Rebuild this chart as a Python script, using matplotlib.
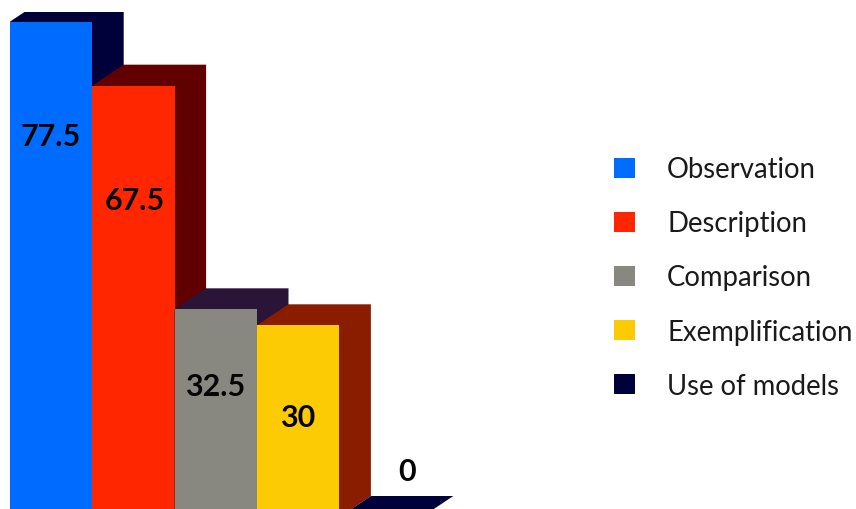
import matplotlib
matplotlib.use("Agg")
import matplotlib.pyplot as plt
from matplotlib.patches import Polygon, Patch
from matplotlib import font_manager as fm

categories = ["Observation", "Description", "Comparison", "Exemplification", "Use of models"]
values = [77.5, 67.5, 32.5, 30, 0]
value_labels = ["77.5", "67.5", "32.5", "30", "0"]
front_colors = ["#006cff", "#ff2600", "#888780", "#fdcb04", "#00003a"]
side_colors = ["#00003a", "#600000", "#2a1538", "#8a1c00", "#00003a"]

W, H = 856, 510
PX_PER_CAT, PX_PER_UNIT = 82.4, 6.39
LEFT_PX, TOP_PX, ZERO_PX, BOTTOM_PX = 9.8, 12.5, 518, 516
DEPTH_X, DEPTH_Y = 31.5 / PX_PER_CAT, 21 / PX_PER_UNIT
label_offsets = [(0, -114), (1, -114), (-1, -77), (-1, -92), (26, 46)]  # pixels from bar top

fig = plt.figure(figsize=(W / 100, H / 100), dpi=100, facecolor="white")
ax = fig.add_axes([LEFT_PX / W, (H - BOTTOM_PX) / H, (W - LEFT_PX) / W, (BOTTOM_PX - TOP_PX) / H])
ax.set_xlim(-0.5, -0.5 + (W - LEFT_PX) / PX_PER_CAT)
ax.set_ylim((ZERO_PX - BOTTOM_PX) / PX_PER_UNIT, (ZERO_PX - TOP_PX) / PX_PER_UNIT)
ax.axis("off")

for i, (v, fc, sc) in enumerate(zip(values, front_colors, side_colors)):
    x0, x1 = i - 0.5, i + 0.5
    ax.add_patch(Polygon([(x0, 0), (x0, v), (x0 + DEPTH_X, v + DEPTH_Y), (x1 + DEPTH_X, v + DEPTH_Y),
                          (x1 + DEPTH_X, DEPTH_Y), (x1, 0)],
                         closed=True, facecolor=sc, edgecolor="none", zorder=2 + i))
    ax.bar(i, v, width=1.0, color=fc, linewidth=0, zorder=2 + i)

for i, (v, t, off) in enumerate(zip(values, value_labels, label_offsets)):
    ax.annotate(t, (i, v), xytext=(off[0] * 0.72, off[1] * 0.72), textcoords="offset points",
                ha="center", va="center", fontsize=22, fontfamily="Lato", fontweight="bold",
                color="#050505", zorder=20, annotation_clip=False)

font = 19.8
handles = [Patch(facecolor=c, edgecolor="none") for c in front_colors]
leg = fig.legend(handles, categories, loc="center left", bbox_to_anchor=(614 / W, 1 - 278.5 / H),
                 borderaxespad=0, borderpad=0, frameon=False,
                 handlelength=21 * 0.72 / font, handleheight=21 * 0.72 / font,
                 handletextpad=32 * 0.72 / font, labelspacing=1.02,
                 prop=fm.FontProperties(family="Lato", weight="regular", size=font))
for t in leg.get_texts():
    t.set_color("#1a1a1a")
fig.savefig("out.png", dpi=100)
